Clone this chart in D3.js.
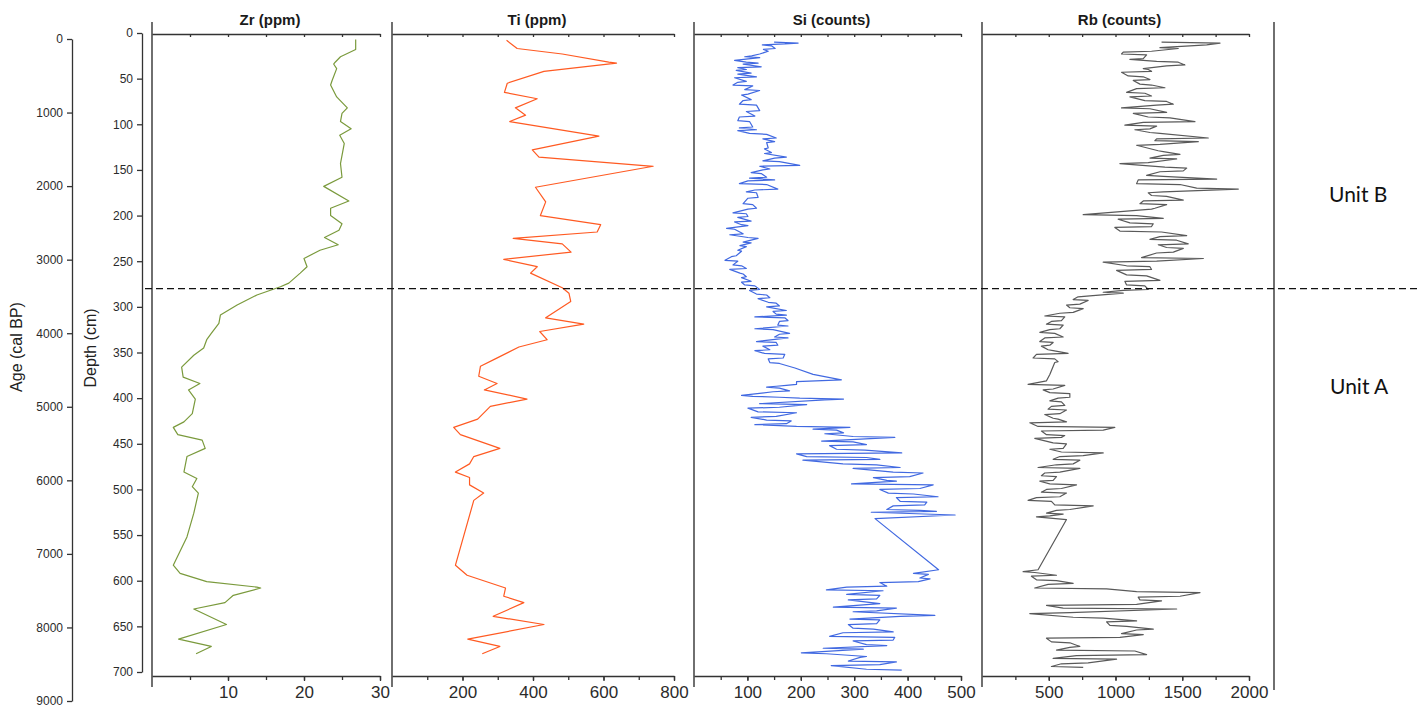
<!DOCTYPE html>
<html>
<head>
<meta charset="utf-8">
<script src="https://d3js.org/d3.v7.min.js"></script>
<style>
  body { margin: 0; background: #fff; }
  svg { display: block; }
</style>
</head>
<body>
<svg width="1424" height="708"></svg>
<script>
// [depth cm, value]
const zrData = [[7,26.8],[18,26.8],[26,24.8],[32,24.1],[34,23.9],[39,24.3],[52,23.7],[57,23.5],[70,24.3],[82,25.7],[88,25],[97,24.8],[105,26.2],[112,24.7],[121,25.3],[143,24.8],[158,25],[168,22.6],[184,25.9],[192,23.5],[200,23.5],[209,25],[216,24.6],[224,22.7],[232,24.5],[238,22.1],[247,20],[256,20.4],[263,19.5],[274,18],[278,16.9],[287,13.8],[298,11.2],[309,9],[318,8.8],[329,7.8],[336,7.2],[345,6.8],[353,5.5],[366,3.9],[377,4.1],[384,6.3],[391,4.8],[401,5.7],[417,5.3],[426,4.2],[432,2.8],[440,3.4],[446,6.6],[455,7],[464,4.6],[481,4.2],[488,5.9],[497,5.3],[504,6.1],[526,5.5],[552,4.6],[583,2.8],[592,3.7],[601,7.2],[607,13.8],[608,14.3],[616,10.7],[624,9.6],[631,5.5],[648,9.8],[664,3.5],[672,7.8],[680,5.8]];

const tiData = [[8,325],[17,355],[23,483],[32,615],[33,637],[42,431],[55,327],[65,319],[72,412],[82,350],[90,379],[97,334],[113,587],[128,398],[136,417],[146,741],[169,407],[185,436],[200,421],[210,592],[218,582],[225,344],[231,483],[240,508],[248,317],[256,412],[263,393],[279,483],[285,502],[294,507],[312,436],[319,544],[327,419],[336,440],[344,360],[357,293],[365,251],[376,246],[384,298],[391,262],[401,383],[409,279],[423,243],[432,175],[440,194],[455,306],[464,232],[472,220],[481,180],[487,220],[495,220],[504,260],[512,232],[583,180],[594,213],[608,322],[617,317],[624,374],[639,287],[648,431],[664,215],[672,306],[680,256]];

const siData = [[10,150],[11,195],[12,170],[13,128],[14,145],[17,152],[18,130],[20,139],[23,123],[25,108],[26,95],[27,123],[30,76],[32,98],[33,120],[34,92],[37,126],[38,82],[40,98],[41,79],[44,107],[45,82],[48,117],[49,76],[53,98],[54,82],[57,73],[58,110],[62,95],[63,123],[67,101],[68,89],[73,107],[74,92],[78,85],[79,117],[85,123],[86,98],[91,114],[92,85],[96,82],[97,104],[103,110],[104,85],[106,117],[107,82],[110,104],[111,136],[115,154],[116,129],[119,151],[120,136],[126,139],[127,132],[131,145],[132,132],[136,173],[137,151],[140,129],[141,160],[145,198],[146,123],[149,142],[150,129],[153,107],[154,126],[158,136],[159,104],[161,151],[162,101],[165,85],[166,136],[171,157],[172,114],[174,98],[175,117],[180,120],[181,101],[187,92],[188,110],[192,117],[193,101],[197,73],[198,98],[201,101],[202,82],[206,107],[207,76],[210,89],[211,101],[214,61],[215,76],[220,92],[221,67],[224,101],[225,120],[229,92],[230,107],[233,86],[234,98],[238,82],[239,89],[244,79],[245,70],[249,58],[250,82],[254,73],[255,89],[258,98],[259,67],[263,86],[264,92],[267,98],[268,89],[272,107],[273,89],[276,95],[277,114],[281,123],[282,104],[286,117],[287,136],[290,142],[291,120],[295,139],[296,154],[299,160],[300,136],[304,173],[305,148],[308,154],[309,173],[311,114],[312,170],[315,176],[316,160],[320,157],[321,176],[324,114],[325,148],[329,179],[330,160],[333,151],[334,176],[338,117],[339,154],[342,157],[343,129],[347,142],[348,114],[351,132],[352,170],[356,167],[357,139],[361,142],[362,160],[367,189],[374,223],[380,276],[382,192],[385,192],[386,173],[387,154],[388,136],[389,160],[392,179],[393,148],[397,89],[398,110],[399,160],[400,198],[401,280],[402,245],[406,123],[407,211],[410,160],[411,101],[415,120],[416,192],[420,154],[421,107],[424,136],[425,182],[428,173],[429,114],[431,192],[432,292],[434,223],[435,267],[438,280],[439,245],[442,298],[443,376],[447,239],[448,298],[451,323],[452,254],[456,267],[457,320],[460,389],[461,192],[464,211],[465,323],[467,348],[468,204],[472,279],[473,342],[476,386],[477,298],[481,373],[482,429],[486,404],[487,336],[490,361],[491,379],[494,295],[495,448],[499,423],[500,348],[504,364],[505,411],[508,457],[509,379],[513,386],[514,436],[517,432],[518,373],[522,361],[523,423],[524,454],[525,332],[528,489],[532,339],[588,458],[592,411],[593,439],[597,423],[598,442],[601,420],[602,348],[606,361],[607,286],[610,248],[611,354],[615,286],[616,348],[620,342],[621,289],[624,332],[625,348],[629,261],[630,379],[633,342],[634,298],[638,451],[639,386],[642,292],[643,348],[647,342],[648,289],[652,298],[653,336],[656,373],[657,279],[661,254],[662,376],[665,373],[666,298],[670,323],[671,361],[674,242],[675,317],[679,201],[680,248],[683,323],[684,311],[688,289],[689,379],[692,348],[693,257],[697,323],[698,389]];

const rbData = [[10,1345],[11,1783],[13,1683],[14,1558],[16,1333],[17,1470],[20,1270],[21,1058],[23,1045],[24,1233],[28,1208],[29,1108],[31,1308],[32,1470],[35,1520],[36,1383],[39,1208],[40,1245],[42,1270],[43,1045],[47,1095],[48,1208],[51,1258],[52,1133],[56,1183],[57,1270],[60,1370],[61,1158],[65,1083],[66,1220],[69,1270],[70,1108],[74,1220],[75,1383],[78,1433],[79,1308],[82,1045],[83,1258],[87,1383],[88,1133],[92,1245],[93,1408],[97,1595],[98,1208],[101,1070],[102,1308],[105,1258],[106,1145],[109,1258],[110,1333],[115,1695],[116,1308],[118,1295],[119,1620],[122,1333],[123,1158],[129,1320],[130,1358],[133,1483],[134,1358],[137,1258],[138,1458],[142,1245],[143,1033],[147,1370],[148,1533],[151,1508],[152,1333],[156,1233],[157,1358],[160,1758],[161,1170],[165,1158],[166,1483],[170,1608],[171,1920],[174,1358],[175,1245],[178,1270],[179,1383],[183,1508],[184,1208],[187,1183],[188,1383],[192,1295],[193,1270],[199,758],[200,1158],[203,1358],[204,1020],[208,1108],[209,1283],[212,1270],[213,995],[217,1033],[218,1345],[222,1533],[223,1333],[226,1258],[227,1458],[231,1545],[232,1320],[235,1383],[236,1508],[240,1433],[241,1308],[246,1195],[247,1658],[250,1308],[251,908],[255,1083],[256,1258],[259,1270],[260,1008],[265,1083],[266,1233],[271,1333],[272,1070],[276,1083],[277,1220],[281,1245],[282,1058],[284,908],[285,1058],[288,808],[289,720],[292,683],[293,795],[297,733],[298,633],[301,658],[302,758],[306,683],[307,583],[310,470],[311,620],[315,595],[316,520],[319,483],[320,608],[324,583],[325,508],[328,433],[329,545],[333,608],[334,470],[338,433],[339,533],[342,508],[343,445],[347,495],[348,533],[351,645],[352,408],[356,383],[357,545],[360,570],[361,545],[374,508],[381,483],[385,345],[386,620],[390,533],[391,458],[394,508],[395,658],[399,658],[400,570],[403,508],[404,595],[408,620],[409,520],[412,495],[413,633],[417,583],[418,470],[422,533],[423,570],[426,633],[427,358],[431,420],[432,995],[435,908],[436,445],[440,483],[441,620],[443,595],[444,395],[449,533],[450,633],[455,608],[456,508],[459,595],[460,908],[463,758],[464,583],[467,533],[468,733],[472,683],[473,558],[476,420],[477,733],[481,583],[482,470],[485,445],[486,558],[490,533],[491,433],[494,508],[495,708],[499,595],[500,483],[503,445],[504,633],[508,583],[509,408],[512,345],[513,520],[517,545],[518,833],[522,658],[523,558],[526,483],[527,608],[529,508],[530,408],[533,633],[588,420],[590,308],[591,395],[594,558],[595,370],[599,408],[600,558],[603,683],[604,495],[608,395],[609,933],[612,1158],[613,1633],[617,1483],[618,1170],[621,1183],[622,1345],[626,1158],[627,483],[630,608],[631,1458],[635,658],[636,358],[640,683],[641,908],[644,1158],[645,933],[649,958],[650,1083],[653,1283],[654,1158],[658,1045],[659,1208],[662,1033],[663,483],[667,520],[668,658],[672,733],[673,658],[676,558],[677,1145],[681,1233],[682,708],[685,533],[686,1008],[690,795],[691,595],[694,520],[695,758]];

const ageTicks = [0,1000,2000,3000,4000,5000,6000,7000,8000,9000];
const depthTicks = [0,50,100,150,200,250,300,350,400,450,500,550,600,650,700];
const zrTicks = [10,20,30], zrMinor = [5,10,15,20,25,30];
const tiTicks = [200,400,600,800], tiMinor = [100,200,300,400,500,600,700,800];
const siTicks = [100,200,300,400,500], siMinor = [50,100,150,200,250,300,350,400,450,500];
const rbTicks = [500,1000,1500,2000], rbMinor = [250,500,750,1000,1250,1500,1750,2000];
const unitBoundary = 280;  // cm

const svg = d3.select("svg");
const axisColor = "#333";
const yTop = 34, yBottom = 676;
const plain = d3.format("d");

const y = d3.scaleLinear().domain([0, 700]).range([33, 672]);
const age = d3.scaleLinear().domain([0, 9000]).range([39, 701]);

function styleAxis(g, size) {
  g.selectAll("path, line").attr("stroke", axisColor).attr("stroke-width", 1.3);
  g.selectAll("text").attr("fill", "#2b2b2b").style("font-family", "'Liberation Sans', Arial, sans-serif").style("font-size", size + "px");
}

// age axis
svg.append("g").attr("transform", "translate(72,0)")
  .call(d3.axisLeft(age).tickValues(ageTicks).tickFormat(plain).tickSize(5).tickSizeOuter(0).tickPadding(4))
  .call(g => styleAxis(g, 12));
svg.append("text").text("Age (cal BP)")
  .attr("transform", "translate(22,347) rotate(-90)")
  .attr("text-anchor", "middle")
  .style("font-family", "'Liberation Sans', Arial, sans-serif").style("font-size", "16px").attr("fill", "#222");

// depth axis
svg.append("g").attr("transform", "translate(142,0)")
  .call(d3.axisLeft(y).tickValues(depthTicks).tickFormat(plain).tickSize(5).tickSizeOuter(0).tickPadding(4))
  .call(g => styleAxis(g, 12));
svg.append("text").text("Depth (cm)")
  .attr("transform", "translate(96,348) rotate(-90)")
  .attr("text-anchor", "middle")
  .style("font-family", "'Liberation Sans', Arial, sans-serif").style("font-size", "16px").attr("fill", "#222");

const panels = [
  {title: "Zr (ppm)", data: zrData, max: 30, left: 152, right: 380, color: "#7a9a3c", ticks: zrTicks, minor: zrMinor},
  {title: "Ti (ppm)", data: tiData, max: 800, left: 392, right: 674, color: "#ff5a22", ticks: tiTicks, minor: tiMinor},
  {title: "Si (counts)", data: siData, max: 500, left: 694, right: 961, color: "#4169e1", ticks: siTicks, minor: siMinor},
  {title: "Rb (counts)", data: rbData, max: 2000, left: 982, right: 1249, color: "#595959", ticks: rbTicks, minor: rbMinor}
];

panels.forEach(p => {
  const x = d3.scaleLinear().domain([0, p.max]).range([p.left, p.right]);

  svg.append("line")
    .attr("x1", p.left).attr("x2", p.left).attr("y1", 22).attr("y2", 687)
    .attr("stroke", axisColor).attr("stroke-width", 1.4);

  // top axis, ticks only
  svg.append("g").attr("transform", `translate(0,${yTop})`)
    .call(d3.axisBottom(x).tickValues(p.minor).tickSize(3).tickSizeOuter(0).tickFormat(""))
    .call(g => styleAxis(g, 12));

  // bottom axis
  svg.append("g").attr("transform", `translate(0,${yBottom})`)
    .call(d3.axisBottom(x).tickValues(p.minor).tickSize(4).tickSizeOuter(0).tickFormat(""))
    .call(g => styleAxis(g, 12));
  svg.append("g").attr("transform", `translate(0,${yBottom})`)
    .call(d3.axisBottom(x).tickValues(p.ticks).tickFormat(plain).tickSize(5).tickSizeOuter(0).tickPadding(5))
    .call(g => styleAxis(g, 17))
    .call(g => g.select(".domain").remove());

  svg.append("path").datum(p.data)
    .attr("fill", "none")
    .attr("stroke", p.color)
    .attr("stroke-width", 1.2)
    .attr("stroke-linejoin", "round")
    .attr("d", d3.line().x(d => x(d[1])).y(d => y(d[0])));

  svg.append("text").text(p.title)
    .attr("x", (p.left + p.right) / 2 + 4).attr("y", 25)
    .attr("text-anchor", "middle")
    .style("font-family", "'Liberation Sans', Arial, sans-serif")
    .style("font-size", "15px").style("font-weight", "bold")
    .attr("fill", "#1a1a1a");
});

// closing line right of Rb
svg.append("line")
  .attr("x1", 1274).attr("x2", 1274).attr("y1", 22).attr("y2", 690)
  .attr("stroke", axisColor).attr("stroke-width", 1.4);

// unit boundary
svg.append("line")
  .attr("x1", 145).attr("x2", 1420)
  .attr("y1", y(unitBoundary)).attr("y2", y(unitBoundary))
  .attr("stroke", "#111").attr("stroke-width", 1.2)
  .attr("stroke-dasharray", "7,4");

svg.append("text").text("Unit B").attr("x", 1329).attr("y", 202)
  .style("font-family", "Lato, 'Open Sans', sans-serif").style("font-size", "21px").attr("fill", "#111");
svg.append("text").text("Unit A").attr("x", 1330).attr("y", 394)
  .style("font-family", "Lato, 'Open Sans', sans-serif").style("font-size", "21px").attr("fill", "#111");
</script>
</body>
</html>
